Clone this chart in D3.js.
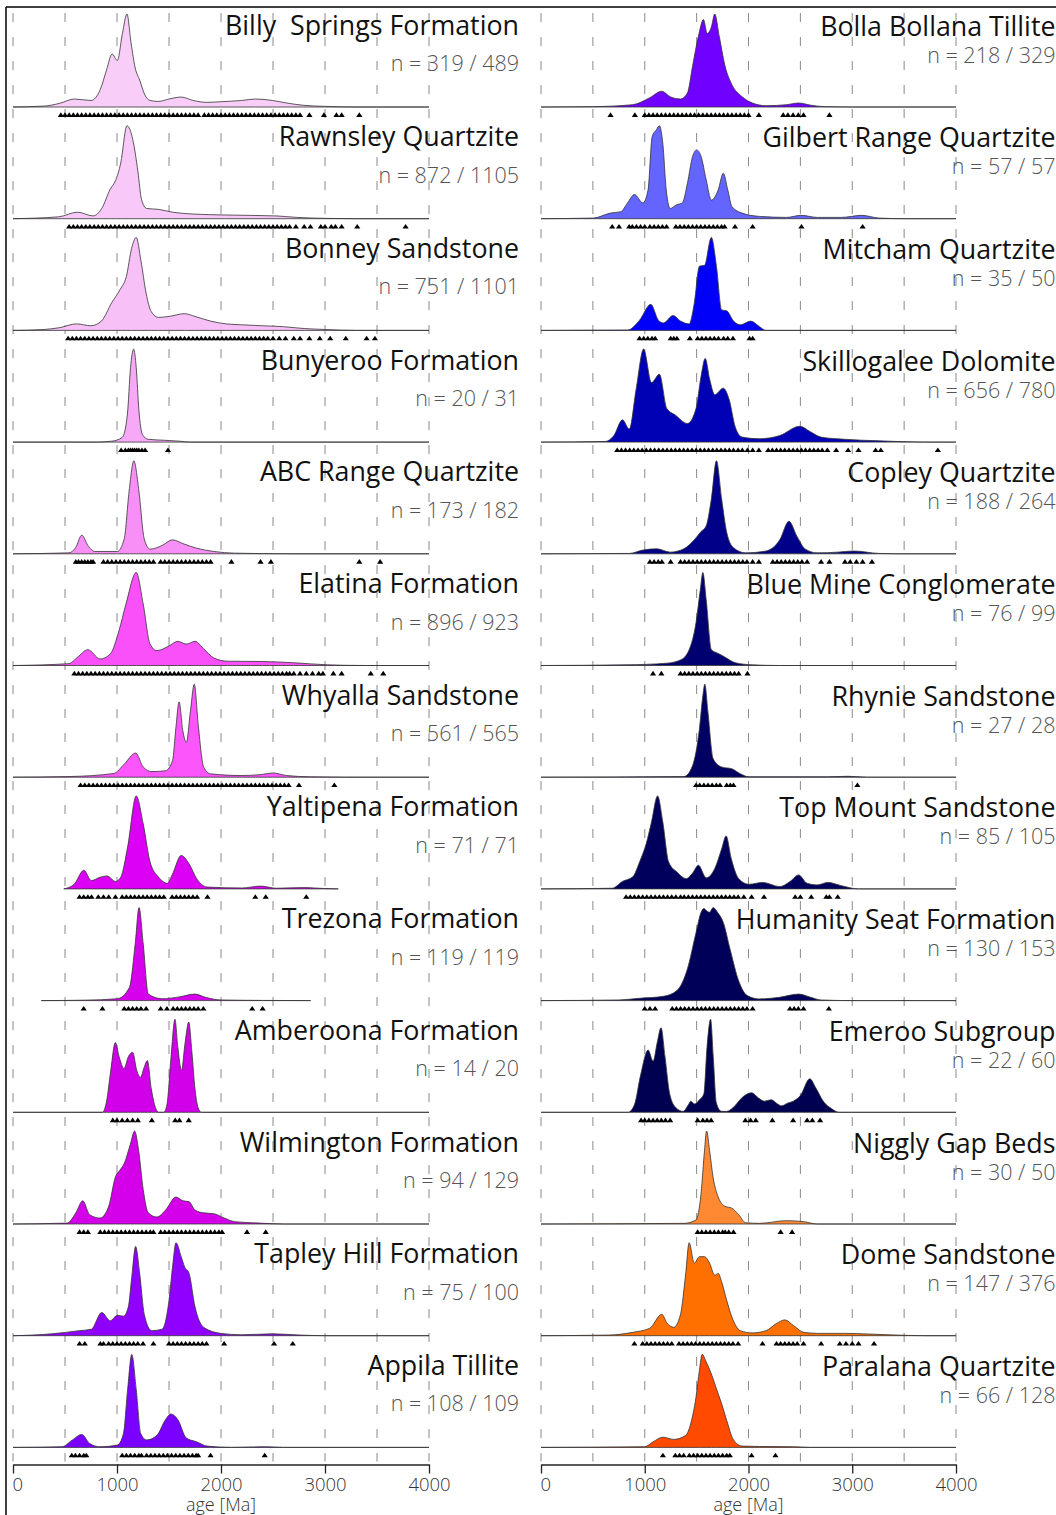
<!DOCTYPE html>
<html>
<head>
<meta charset="utf-8">
<script src="https://cdn.jsdelivr.net/npm/d3@7"></script>
<style>
  body { margin: 0; background: #fff; }
  svg { display: block; font-family: "Open Sans", "Noto Sans", sans-serif; }
</style>
</head>
<body>
<svg id="chart" width="1056" height="1515"></svg>
<script>
// ---------- detrital zircon age spectra (KDE heights in % of each panel's maximum) ----------
const leftNames = ["Billy  Springs Formation", "Rawnsley Quartzite", "Bonney Sandstone", "Bunyeroo Formation",
  "ABC Range Quartzite", "Elatina Formation", "Whyalla Sandstone", "Yaltipena Formation", "Trezona Formation",
  "Amberoona Formation", "Wilmington Formation", "Tapley Hill Formation", "Appila Tillite"];
const leftCounts = ["n = 319 / 489", "n = 872 / 1105", "n = 751 / 1101", "n = 20 / 31", "n = 173 / 182",
  "n = 896 / 923", "n = 561 / 565", "n = 71 / 71", "n = 119 / 119", "n = 14 / 20", "n = 94 / 129",
  "n = 75 / 100", "n = 108 / 109"];
const rightNames = ["Bolla Bollana Tillite", "Gilbert Range Quartzite", "Mitcham Quartzite", "Skillogalee Dolomite",
  "Copley Quartzite", "Blue Mine Conglomerate", "Rhynie Sandstone", "Top Mount Sandstone", "Humanity Seat Formation",
  "Emeroo Subgroup", "Niggly Gap Beds", "Dome Sandstone", "Paralana Quartzite"];
const rightCounts = ["n = 218 / 329", "n = 57 / 57", "n = 35 / 50", "n = 656 / 780", "n = 188 / 264",
  "n = 76 / 99", "n = 27 / 28", "n = 85 / 105", "n = 130 / 153", "n = 22 / 60", "n = 30 / 50",
  "n = 147 / 376", "n = 66 / 128"];

const ageTicks = [0, 1000, 2000, 3000, 4000];
const gridAges = [0, 500, 1000, 1500, 2000, 2500, 3000, 3500, 4000];

// density curves: [age Ma, relative height %]
const billyKde = [[0,0],[300,1],[450,4],[590,8.6],[750,7],[840,19],[900,40],[953,57],[1003,50],[1052,79],[1096,100],[1135,69],[1175,42],[1218,29],[1268,13],[1318,7],[1400,6],[1500,8.6],[1617,10.7],[1733,7],[1866,5],[2000,5.7],[2198,7],[2331,8.6],[2497,7],[2630,4.3],[2796,1.8],[2995,0.7],[3300,0],[4000,0]];
const rawnsleyKde = [[0,0],[438,2],[621,7],[770,3],[853,11],[936,32],[986,41],[1036,60],[1096,100],[1152,85],[1202,50],[1235,21],[1285,11],[1401,10],[1534,7],[1733,5],[2032,4],[2530,3],[2729,1.4],[3028,0.3],[3300,0],[4000,0]];
const bonneyKde = [[0,0],[300,1],[450,3],[610,7],[750,5],[850,10],[950,30],[1030,44],[1090,58],[1140,88],[1185,100],[1230,75],[1280,40],[1330,20],[1400,14],[1500,15],[1650,18],[1750,15],[1900,10],[2050,7],[2200,6],[2400,5],[2600,4],[2800,2],[3000,1],[3300,0],[4000,0]];
const bunyerooKde = [[0,0],[800,0],[950,1],[1050,5],[1100,30],[1130,80],[1160,100],[1185,80],[1210,35],[1245,8],[1300,3],[1450,2],[1600,1],[1700,0],[4000,0]];
const abcKde = [[0,0],[538,1],[604,7],[661,20],[720,9],[787,2.5],[1003,2.5],[1069,16],[1119,70],[1162,100],[1208,70],[1262,16],[1318,5],[1434,9],[1534,15],[1633,11],[1766,6],[1932,2.5],[2131,0.7],[2700,0],[4000,0]];
const elatinaKde = [[0,0],[538,2],[621,9],[720,17],[837,7],[936,12.5],[1019,37.5],[1086,66],[1185,100],[1252,66],[1318,23],[1384,16],[1500,21],[1584,26],[1667,23],[1750,26],[1833,18],[1932,8],[2065,4.6],[2397,4.3],[2696,3],[3028,0.7],[3400,0],[4000,0]];
const whyallaKde = [[0,0],[538,0.7],[969,4],[1069,14],[1179,26],[1252,11],[1335,6],[1467,7],[1534,18],[1567,54],[1597,81],[1633,50],[1667,37.5],[1706,71],[1743,100],[1783,54],[1833,11],[1899,3.6],[2198,1.8],[2397,3],[2497,4.6],[2630,1.8],[2862,0.4],[3200,0],[4000,0]];
const yaltipenaKde = [[488,0],[588,5],[681,20],[754,9],[837,12.5],[903,14],[986,8],[1036,12.5],[1102,45],[1185,100],[1252,70],[1318,29],[1401,12.5],[1484,6],[1534,16],[1617,36],[1693,27],[1766,11],[1866,2],[2198,1],[2380,3],[2530,0.7],[2796,1.4],[2995,0.4],[3127,0]];
const trezonaKde = [[272,0],[700,0.5],[1003,2],[1119,14],[1175,61],[1212,100],[1252,61],[1301,7],[1434,2],[1600,4],[1750,7],[1849,3.6],[1999,0.7],[2400,0.2],[2862,0]];
const amberoonaKde = [[0,0],[860,0],[900,12],[940,45],[984,75],[1020,60],[1067,47],[1110,60],[1150,64.5],[1190,45],[1226,37.6],[1260,48],[1292,55.6],[1330,25],[1370,5],[1400,0],[1450,0],[1480,8],[1520,60],[1557,100],[1585,70],[1620,45],[1655,75],[1690,97],[1720,65],[1750,25],[1780,5],[1810,0],[4000,0]];
const wilmingtonKde = [[0,0],[521,1],[604,12],[671,25],[737,10],[837,6.4],[920,19],[986,51],[1029,58],[1069,65],[1129,86],[1169,100],[1208,79],[1252,37],[1301,12],[1384,7.5],[1467,15],[1567,29],[1633,25],[1693,24],[1750,15],[1833,12],[1932,11],[2032,6.4],[2131,2.5],[2364,1],[2600,0],[4000,0]];
const tapleyKde = [[0,0],[372,2],[637,5.4],[754,7],[853,25],[936,16],[1003,22],[1062,21],[1109,31],[1142,63],[1179,96],[1218,67],[1262,23],[1334,5.4],[1434,7],[1500,38],[1534,74],[1567,100],[1617,85],[1650,74],[1693,67],[1750,31],[1833,9],[1999,2.5],[2198,1],[2497,2],[2762,0.7],[3000,0],[4000,0]];
const appilaKde = [[0,0],[471,0.7],[571,8],[661,14],[737,4.3],[837,0.7],[1003,2.5],[1062,15],[1102,62],[1142,100],[1185,62],[1228,15],[1285,8],[1384,13],[1467,30],[1517,36],[1584,30],[1667,10],[1766,6],[1866,1.4],[2100,0],[2430,0.7],[2600,0],[4000,0]];

const bollaKde = [[0,0],[504,0.4],[884,2.5],[1048,10],[1164,17],[1246,11],[1345,8.6],[1411,15],[1461,44],[1517,76],[1566,94],[1602,79],[1642,86],[1675,100],[1718,76],[1774,44],[1840,24],[1939,11],[2038,4.3],[2169,1.4],[2367,2.5],[2483,4.3],[2598,2],[2730,0.4],[3000,0],[4000,0]];
const gilbertKde = [[0,0],[504,0.7],[669,6],[768,7.5],[834,17],[900,26],[982,17],[1032,31],[1071,88],[1114,96],[1141,100],[1174,81],[1207,31],[1246,11],[1306,15],[1362,17],[1411,38],[1461,67],[1500,74],[1543,67],[1592,42],[1642,20],[1708,31],[1757,49],[1800,31],[1840,13],[1939,6],[2103,2.5],[2367,1.4],[2506,3.6],[2664,1.4],[2895,1.4],[3093,3.6],[3257,0.7],[3500,0],[4000,0]];
const mitchamKde = [[0,0],[834,0.4],[950,11],[1058,28],[1131,11],[1180,8],[1273,16],[1345,10],[1428,7],[1477,29],[1527,69],[1576,70],[1642,100],[1691,69],[1741,22],[1790,21],[1856,10],[1922,6],[2021,10],[2103,4.3],[2169,0],[4000,0]];
const skillogaleeKde = [[0,0],[620,0.7],[702,7],[785,24],[851,14],[917,57],[989,100],[1065,64],[1141,73],[1213,36],[1296,29],[1411,20],[1494,36],[1543,71],[1583,90],[1625,68],[1675,51],[1757,58],[1813,46],[1873,16],[1939,5.4],[2103,3.6],[2301,7],[2493,17],[2598,11],[2697,5.4],[2928,3],[3257,1.4],[3700,0],[4000,0]];
const copleyKde = [[0,0],[851,0.4],[983,4],[1114,5.4],[1246,1.8],[1378,5.4],[1477,15],[1543,24],[1592,30],[1642,59],[1691,100],[1741,59],[1790,23],[1856,6.5],[1972,1],[2169,3],[2301,15],[2390,35],[2466,19],[2549,5],[2664,1],[2862,1.8],[3010,3],[3257,0.4],[3450,0],[4000,0]];
const blueMineKde = [[0,0],[818,0.7],[1213,2.5],[1345,6],[1428,17],[1494,46],[1536,82],[1560,100],[1592,71],[1642,17],[1708,13],[1774,9],[1873,3],[2038,0.7],[2300,0],[4000,0]];
const rhynieKde = [[0,0],[1378,0.7],[1461,12.5],[1527,52],[1560,87.5],[1579,100],[1609,70],[1659,20],[1741,11],[1840,9],[1922,3.6],[2005,0.4],[2763,0.4],[2961,1],[3150,0],[4000,0]];
const topMountKde = [[0,0],[686,0.7],[785,8],[884,13],[950,29],[1015,49],[1065,72],[1124,100],[1174,72],[1230,29],[1312,18],[1401,11],[1461,17],[1517,25.5],[1592,12],[1675,22],[1741,43],[1784,57],[1833,33],[1906,11],[2005,5],[2136,7],[2301,2.5],[2400,8],[2483,15],[2565,6],[2664,4.3],[2763,7],[2895,3.5],[3060,0],[4000,0]];
const humanityKde = [[0,0],[752,0.7],[950,2.5],[1180,4.6],[1312,11],[1411,34],[1494,73],[1543,95],[1569,99],[1602,96],[1625,95],[1659,100],[1701,95],[1757,84],[1823,55],[1906,21],[1988,5.4],[2103,1.8],[2301,3.6],[2483,7],[2598,3.6],[2697,0.7],[3000,0],[4000,0]];
const emerooKde = [[0,0],[840,0],[900,8],[960,40],[1032,67],[1081,55],[1120,75],[1157,91],[1195,60],[1240,20],[1300,5],[1370,1],[1420,8],[1444,12],[1480,9],[1527,13.5],[1570,20],[1600,70],[1635,100],[1660,60],[1690,10],[1740,1],[1790,1],[1850,5],[1950,17],[2031,21],[2100,15],[2153,12],[2219,13.5],[2280,9],[2318,7],[2380,10],[2433,12],[2500,18],[2591,36],[2650,26],[2720,12],[2800,4],[2870,0],[4000,0]];
const nigglyKde = [[0,0],[1378,0.7],[1494,4.3],[1543,33],[1576,79],[1596,100],[1625,79],[1659,50],[1708,29],[1774,19],[1840,17],[1906,10],[1972,1.4],[2103,0.7],[2367,3.6],[2532,2.5],[2664,0],[4000,0]];
const domeKde = [[0,0],[653,0.7],[884,3.6],[1048,8],[1164,23],[1213,14],[1279,9],[1345,23],[1395,67],[1428,100],[1477,78],[1527,85],[1576,85],[1625,78],[1675,65],[1708,67],[1741,58],[1790,38],[1840,20],[1922,5.4],[2038,3],[2169,5.4],[2268,13],[2351,17],[2433,11],[2532,3.6],[2664,2.5],[2928,2.5],[3158,1.8],[3422,0.7],[3700,0],[4000,0]];
const paralanaKde = [[0,0],[999,0.7],[1081,6],[1174,11],[1279,8.6],[1395,13],[1444,26],[1494,54],[1527,83],[1553,100],[1592,92],[1642,79],[1691,63],[1741,47],[1790,29],[1856,8],[1939,1.4],[2103,1],[2433,0.7],[2600,0],[4000,0]];

// single-grain ages (Ma), shown as triangles under each curve
const billyAges = [460,500,540,580,620,660,700,740,780,820,860,900,940,980,1020,1060,1100,1140,1180,1220,1260,1300,1340,1380,1420,1460,1500,1540,1580,1620,1660,1700,1740,1780,1840,1880,1920,1960,2000,2040,2080,2120,2160,2200,2240,2280,2320,2360,2400,2440,2480,2520,2560,2600,2640,2680,2720,2760,2850,2990,3110,3160,3330];
const rawnsleyAges = [540,580,620,660,700,740,780,820,860,900,940,980,1020,1060,1100,1140,1180,1220,1260,1300,1340,1380,1420,1460,1500,1540,1580,1620,1660,1700,1740,1780,1820,1860,1900,1940,1980,2020,2060,2100,2140,2180,2220,2260,2300,2340,2380,2420,2460,2500,2540,2580,2620,2660,2720,2800,2860,2960,3000,3060,3100,3160,3310,3775];
const bonneyAges = [530,570,610,650,690,730,770,810,850,890,930,970,1010,1050,1090,1130,1170,1210,1250,1290,1330,1370,1410,1450,1490,1530,1570,1610,1650,1690,1730,1770,1810,1850,1890,1930,1970,2010,2050,2090,2130,2170,2210,2250,2290,2330,2370,2410,2450,2500,2560,2620,2700,2760,2850,2950,3050,3200,3400,3480];
const bunyerooAges = [1040,1080,1110,1130,1150,1170,1190,1210,1240,1270,1490];
const abcAges = [604,630,660,690,720,750,770,870,910,950,990,1030,1070,1110,1150,1190,1230,1270,1310,1350,1420,1460,1500,1540,1580,1620,1660,1700,1740,1780,1820,1860,1900,2100,2380,2480,3330,3530];
const elatinaAges = [590,630,670,710,750,790,830,870,910,950,990,1030,1070,1110,1150,1190,1230,1270,1310,1350,1390,1430,1470,1510,1550,1590,1630,1670,1710,1750,1790,1830,1870,1910,1950,1990,2030,2070,2110,2150,2190,2230,2270,2310,2350,2390,2430,2470,2510,2550,2590,2630,2660,2700,2760,2820,2880,2940,2980,3080,3160,3440,3560];
const whyallaAges = [650,690,730,770,810,850,890,930,970,1010,1050,1090,1130,1170,1210,1250,1290,1330,1370,1410,1450,1490,1530,1570,1610,1650,1690,1730,1770,1810,1850,1890,1930,1970,2010,2050,2090,2130,2170,2210,2250,2290,2330,2370,2410,2450,2490,2530,2570,2610,2650,2750,3090];
const yaltipenaAges = [640,680,720,755,820,870,920,985,1050,1090,1130,1170,1210,1250,1290,1330,1370,1410,1450,1530,1570,1610,1650,1690,1730,1770,1870,2330,2430,2820];
const trezonaAges = [680,860,1070,1110,1150,1190,1230,1280,1420,1480,1540,1580,1620,1660,1700,1740,1780,1830,2300,2400];
const amberoonaAges = [960,1000,1050,1100,1150,1200,1335,1560,1600,1690];
const wilmingtonAges = [640,680,720,840,880,920,960,1000,1040,1080,1120,1160,1200,1240,1280,1320,1350,1420,1460,1500,1540,1580,1620,1660,1700,1740,1780,1820,1860,1900,1940,1980,2010,2250,2430];
const tapleyAges = [640,690,840,870,920,960,1000,1040,1080,1120,1160,1200,1250,1350,1500,1540,1580,1620,1660,1700,1740,1780,1820,1860,2030,2510,2690];
const appilaAges = [565,600,640,680,705,1050,1090,1130,1170,1210,1235,1285,1325,1365,1405,1445,1485,1525,1565,1605,1645,1685,1725,1760,1780,1900,2420];

const bollaAges = [670,905,1000,1040,1080,1120,1160,1200,1240,1280,1320,1360,1400,1440,1480,1520,1560,1600,1640,1680,1720,1760,1800,1840,1880,1920,1960,2000,2100,2335,2380,2430,2480,2530,2780];
const gilbertAges = [686,752,850,880,920,960,1000,1050,1090,1130,1170,1210,1300,1340,1380,1420,1460,1500,1540,1580,1620,1660,1700,1740,1770,1870,2040,2510,3100];
const mitchamAges = [950,990,1030,1070,1100,1250,1280,1310,1435,1510,1550,1590,1630,1670,1710,1760,1800,1850,2010,2040];
const skillogaleeAges = [735,775,815,855,895,935,975,1015,1055,1095,1135,1175,1215,1255,1295,1335,1375,1415,1455,1495,1535,1575,1615,1655,1695,1735,1775,1815,1855,1900,1940,1990,2040,2100,2190,2230,2270,2310,2350,2390,2430,2470,2510,2550,2590,2630,2670,2710,2760,2845,2960,3060,3225,3275,3825];
const copleyAges = [1050,1090,1130,1165,1250,1345,1385,1425,1465,1505,1545,1585,1625,1665,1705,1745,1785,1825,1865,1905,1945,1985,2040,2100,2235,2275,2315,2355,2395,2435,2475,2515,2565,2700,2780,2930,2980,3040,3100,3190];
const blueMineAges = [1080,1160,1345,1385,1425,1465,1505,1545,1585,1625,1665,1705,1745,1785,1825,1865,1905,1990];
const rhynieAges = [1495,1530,1570,1610,1650,1690,1725,1790,1825,1855,3050];
const topMountAges = [820,860,900,940,980,1020,1060,1100,1140,1180,1220,1260,1300,1345,1380,1420,1460,1500,1540,1580,1620,1660,1700,1740,1780,1820,1860,1900,1955,2030,2150,2450,2500,2605,2750,2780,2860];
const humanityAges = [1000,1050,1100,1265,1305,1345,1385,1425,1465,1505,1545,1585,1625,1665,1705,1745,1785,1825,1865,1905,1945,1985,2040,2400,2440,2480,2530,2775];
const emerooAges = [965,1000,1040,1080,1120,1160,1200,1245,1510,1560,1600,1640,1970,2020,2070,2230,2430,2565,2615,2690];
const nigglyAges = [1510,1550,1590,1630,1670,1710,1750,1775,1810,1855,2310,2420];
const domeAges = [900,980,1020,1060,1100,1140,1180,1220,1260,1330,1370,1410,1450,1490,1530,1570,1610,1650,1690,1730,1770,1810,1850,1900,2135,2270,2310,2350,2390,2430,2470,2530,2700,2880,2940,3000,3060,3210];
const paralanaAges = [1175,1295,1335,1375,1430,1470,1510,1550,1590,1630,1670,1710,1750,1790,1820,2030,2260];

const leftKdes = [billyKde, rawnsleyKde, bonneyKde, bunyerooKde, abcKde, elatinaKde, whyallaKde, yaltipenaKde, trezonaKde, amberoonaKde, wilmingtonKde, tapleyKde, appilaKde];
const leftAges = [billyAges, rawnsleyAges, bonneyAges, bunyerooAges, abcAges, elatinaAges, whyallaAges, yaltipenaAges, trezonaAges, amberoonaAges, wilmingtonAges, tapleyAges, appilaAges];
const rightKdes = [bollaKde, gilbertKde, mitchamKde, skillogaleeKde, copleyKde, blueMineKde, rhynieKde, topMountKde, humanityKde, emerooKde, nigglyKde, domeKde, paralanaKde];
const rightAges = [bollaAges, gilbertAges, mitchamAges, skillogaleeAges, copleyAges, blueMineAges, rhynieAges, topMountAges, humanityAges, emerooAges, nigglyAges, domeAges, paralanaAges];

// fill colours, youngest (top left) to oldest (bottom right)
const leftColors = ["#f8cdf8", "#f8c8f8", "#f7c0f7", "#f7a9f7", "#f78ff7", "#fa50fa", "#fc55fc",
  "#dc00f4", "#d600ec", "#d000e8", "#d400ea", "#9000ff", "#7a00ff"];
const rightColors = ["#7000ff", "#6464ff", "#0000fa", "#0000b4", "#000088", "#000070", "#000062",
  "#00005c", "#000058", "#000050", "#ff8833", "#ff7000", "#ff4a00"];

// ---------- drawing ----------
const svg = d3.select("#chart");
const panelBase = d3.scaleLinear().domain([0, 12]).range([107, 107 + 12 * 111.7]);
const hScale = d3.scaleLinear().domain([0, 100]).range([0, 93]);
const axisY = 1464.5;

const columns = [
  { names: leftNames, counts: leftCounts, kdes: leftKdes, ages: leftAges, colors: leftColors,
    x: d3.scaleLinear().domain([0, 4000]).range([13, 429]), textRight: 519, titleDy: -72.5, countDy: -36 },
  { names: rightNames, counts: rightCounts, kdes: rightKdes, ages: rightAges, colors: rightColors,
    x: d3.scaleLinear().domain([0, 4000]).range([541, 956]), textRight: 1055.5, titleDy: -71.5, countDy: -44.5 }
];

// page frame
svg.append("line").attr("x1", 6).attr("x2", 1056).attr("y1", 7).attr("y2", 7)
  .attr("stroke", "#000").attr("stroke-width", 1.5);
svg.append("line").attr("x1", 6).attr("x2", 6).attr("y1", 7).attr("y2", 1515)
  .attr("stroke", "#000").attr("stroke-width", 1.5);

columns.forEach(col => {
  const g = svg.append("g");

  // dashed age grid
  g.append("g").selectAll("line").data(gridAges).join("line")
    .attr("x1", d => col.x(d)).attr("x2", d => col.x(d))
    .attr("y1", 13).attr("y2", axisY - 3)
    .attr("stroke", "#8a8a8a").attr("stroke-width", 1)
    .attr("stroke-dasharray", "9,15");

  col.kdes.forEach((kde, i) => {
    const base = panelBase(i);
    const area = d3.area()
      .x(d => col.x(d[0]))
      .y0(base)
      .y1(d => base - hScale(d[1]))
      .curve(d3.curveMonotoneX);

    g.append("path").datum(kde)
      .attr("d", area)
      .attr("fill", col.colors[i])
      .attr("stroke", "#333")
      .attr("stroke-width", 0.8)
      .attr("stroke-linejoin", "round");

    g.append("g").selectAll("path").data(col.ages[i]).join("path")
      .attr("d", d => {
        const x = col.x(d);
        return `M${x},${base + 5.3}L${x + 3.1},${base + 9.9}L${x - 3.1},${base + 9.9}Z`;
      })
      .attr("fill", "#000");

    g.append("text")
      .attr("x", col.textRight).attr("y", base + col.titleDy)
      .attr("text-anchor", "end")
      .style("white-space", "pre")
      .attr("font-size", 26.8).attr("fill", "#111")
      .text(col.names[i]);

    g.append("text")
      .attr("x", col.textRight).attr("y", base + col.countDy)
      .attr("text-anchor", "end")
      .attr("font-size", 21.5).attr("font-weight", 300).attr("fill", "#555")
      .text(col.counts[i]);
  });

  // age axis
  const axis = d3.axisBottom(col.x).tickValues(ageTicks).tickSize(9).tickSizeOuter(0).tickPadding(4)
    .tickFormat(d3.format("d"));
  const ax = g.append("g").attr("transform", `translate(0,${axisY})`).call(axis);
  ax.select(".domain").attr("stroke", "#222").attr("stroke-width", 1.3);
  ax.selectAll(".tick line").attr("stroke", "#222").attr("stroke-width", 1.3);
  ax.selectAll(".tick text")
    .attr("font-family", "'Open Sans', sans-serif")
    .attr("font-size", 18.5).attr("font-weight", 300).attr("fill", "#333")
    .attr("text-anchor", d => d === 0 ? "start" : "middle")
    .attr("dx", d => d === 0 ? -1 : 0);

  g.append("text")
    .attr("x", col.x(2000)).attr("y", 1511)
    .attr("text-anchor", "middle")
    .attr("font-size", 18).attr("font-weight", 300).attr("fill", "#333")
    .text("age [Ma]");
});
</script>
</body>
</html>
